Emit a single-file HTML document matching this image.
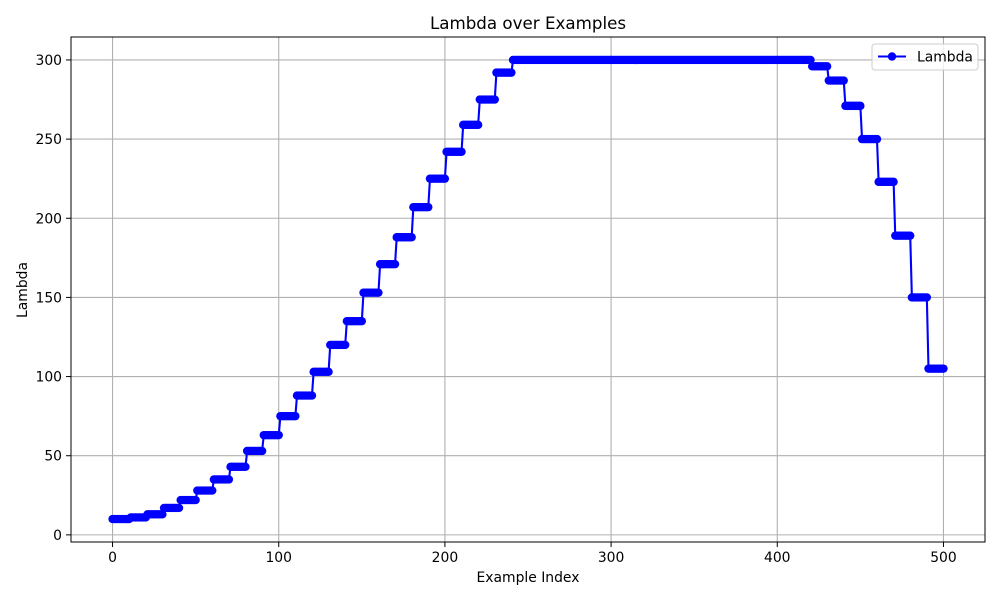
<!DOCTYPE html>
<html><head><meta charset="utf-8"><style>
body{margin:0;background:#fff;}
svg{display:block;font-family:"DejaVu Sans","Liberation Sans",sans-serif;}
</style></head><body>
<svg id="chart" width="1000" height="600" xmlns="http://www.w3.org/2000/svg">
<text x="528" y="29" font-size="16.7" text-anchor="middle">Lambda over Examples</text>
<g id="grid"></g>
<g id="ticks"></g>
<g id="series"></g>
<rect x="71" y="37" width="914" height="505" fill="none" stroke="#000" stroke-width="1"/>
<text x="528" y="582" font-size="13.9" text-anchor="middle">Example Index</text>
<text x="27" y="290" font-size="13.9" text-anchor="middle" transform="rotate(-90 27 290)">Lambda</text>
<g>
<rect x="872" y="44" width="106" height="26" rx="3" fill="#fff" fill-opacity="0.8" stroke="#ccc"/>
<line x1="878" y1="56.5" x2="906" y2="56.5" stroke="#0000ff" stroke-width="2"/>
<circle cx="892" cy="56.5" r="4.2" fill="#0000ff"/>
<text x="917" y="61.5" font-size="13.9">Lambda</text>
</g>
</svg>
<script>
const firstValue=10;
const blockValues=[10,11,13,17,22,28,35,43,53,63,75,88,103,120,135,153,171,188,207,225,242,259,275,292,300,300,300,300,300,300,300,300,300,300,300,300,300,300,300,300,300,300,296,287,271,250,223,189,150,105];
const blockSize=10;
const xTicks=[0,100,200,300,400,500];
const yTicks=[0,50,100,150,200,250,300];
const values=[firstValue];
blockValues.forEach(v=>{for(let j=0;j<blockSize;j++)values.push(v);});
const X0=71,X1=985,Y0=542,Y1=37;
const xmin=-25,xmax=525,ymin=-4.5,ymax=314.5;
const xs=v=>X0+(v-xmin)/(xmax-xmin)*(X1-X0);
const ys=v=>Y0-(v-ymin)/(ymax-ymin)*(Y0-Y1);
const NS="http://www.w3.org/2000/svg";
function mk(tag,attrs,parent,text){const e=document.createElementNS(NS,tag);for(const k in attrs)e.setAttribute(k,attrs[k]);if(text!==undefined)e.textContent=text;document.getElementById(parent).appendChild(e);return e;}
xTicks.forEach(t=>{
 const x=xs(t);
 const g=mk('line',{x1:x,x2:x,y1:Y1,y2:Y0,stroke:'#b0b0b0','stroke-width':1.1},'grid');
 
 
 const tk=mk('line',{x1:x,x2:x,y1:Y0,y2:Y0+5,stroke:'#000','stroke-width':1},'ticks');
 
 
 const lb=mk('text',{x:x,y:Y0+20,'font-size':13.9,'text-anchor':'middle'},'ticks',String(t));
 
 
});
yTicks.forEach(t=>{
 const y=ys(t);
 const g=mk('line',{x1:X0,x2:X1,y1:y,y2:y,stroke:'#b0b0b0','stroke-width':1.1},'grid');
 
 
 const tk=mk('line',{x1:X0-5,x2:X0,y1:y,y2:y,stroke:'#000','stroke-width':1},'ticks');
 
 
 const lb=mk('text',{x:X0-9,y:y+5,'font-size':13.9,'text-anchor':'end'},'ticks',String(t));
 
 
});
const pts=values.map((v,i)=>xs(i).toFixed(2)+','+ys(v).toFixed(2)).join(' ');
const pl=mk('polyline',{points:pts,fill:'none',stroke:'#0000ff','stroke-width':2.1},'series');


values.forEach((v,i)=>{
 const c=mk('circle',{cx:xs(i),cy:ys(v),r:4.2,fill:'#0000ff'},'series');
 
 
});
</script>
</body></html>
